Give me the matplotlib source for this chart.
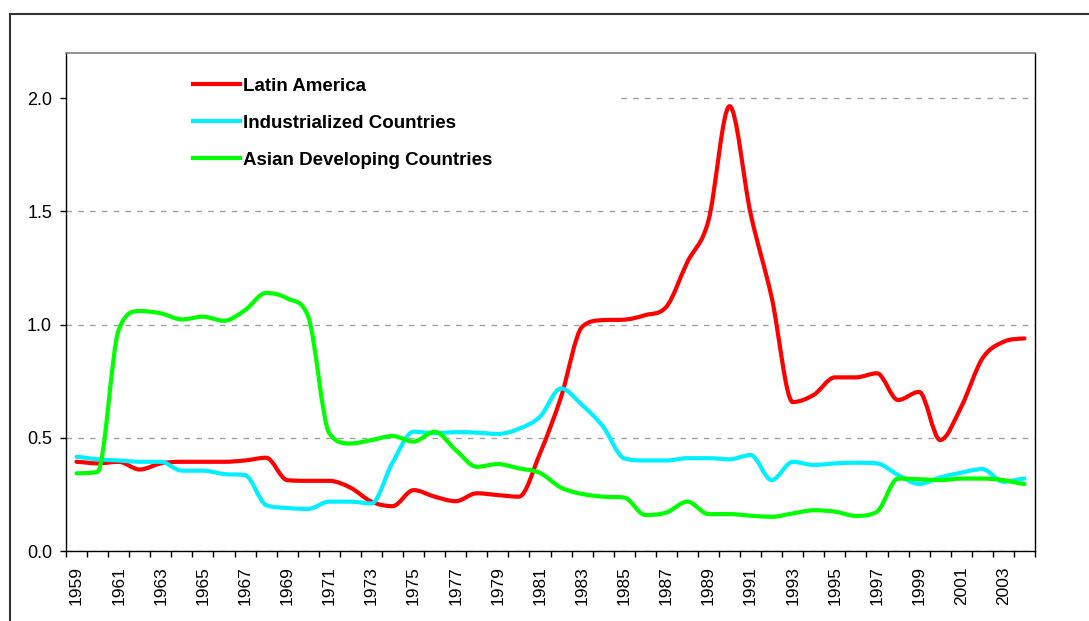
import numpy as np
import matplotlib
matplotlib.use("Agg")
import matplotlib.pyplot as plt
from matplotlib.path import Path
from matplotlib.patches import PathPatch, Rectangle
from matplotlib.lines import Line2D

plt.rcParams['font.family'] = ['Liberation Sans', 'DejaVu Sans']

# -------------------------------------------------------------
# Dados
# -------------------------------------------------------------
anos = list(range(1959, 2005))

latin_america = [0.394, 0.387, 0.394, 0.360, 0.387, 0.394, 0.394, 0.394, 0.400, 0.412,
                 0.313, 0.310, 0.310, 0.280, 0.218, 0.198, 0.269, 0.240, 0.220, 0.255,
                 0.247, 0.240, 0.431, 0.680, 0.990, 1.020, 1.022, 1.042, 1.079, 1.277,
                 1.460, 1.965, 1.490, 1.120, 0.658, 0.690, 0.767, 0.767, 0.785, 0.667,
                 0.703, 0.490, 0.637, 0.850, 0.924, 0.939]

industrializados = [0.416, 0.405, 0.400, 0.394, 0.394, 0.355, 0.355, 0.340, 0.335, 0.203,
                    0.190, 0.186, 0.218, 0.218, 0.210, 0.390, 0.527, 0.520, 0.525, 0.523,
                    0.517, 0.540, 0.593, 0.718, 0.645, 0.549, 0.409, 0.400, 0.400, 0.410,
                    0.410, 0.405, 0.424, 0.313, 0.394, 0.380, 0.387, 0.390, 0.387, 0.336,
                    0.296, 0.325, 0.346, 0.362, 0.306, 0.320]

asia = [0.343, 0.350, 0.976, 1.060, 1.050, 1.023, 1.035, 1.017, 1.064, 1.140,
        1.116, 1.035, 0.520, 0.475, 0.490, 0.508, 0.483, 0.527, 0.446, 0.372,
        0.384, 0.365, 0.345, 0.280, 0.252, 0.240, 0.236, 0.159, 0.170, 0.218,
        0.163, 0.163, 0.156, 0.151, 0.166, 0.180, 0.174, 0.155, 0.174, 0.320,
        0.317, 0.313, 0.320, 0.320, 0.313, 0.296]

series = [
    ('Latin America', latin_america, '#FF0000'),
    ('Industrialized Countries', industrializados, '#00F0FF'),
    ('Asian Developing Countries', asia, '#00FF00'),
]


def linha_suave(x, y):
    # linha suavizada (Bezier) sem ultrapassar os pontos
    x = np.asarray(x, float)
    y = np.asarray(y, float)
    d = np.diff(y)
    m = np.zeros_like(y)
    for i in range(1, len(y) - 1):
        if d[i - 1] * d[i] > 0:
            cr = (d[i - 1] + d[i]) / 2
            lim = 3 * min(abs(d[i - 1]), abs(d[i]))
            m[i] = np.sign(cr) * min(abs(cr), lim)
    m[0] = d[0] / 2
    m[-1] = d[-1] / 2
    verts = [(x[0], y[0])]
    codes = [Path.MOVETO]
    for i in range(len(x) - 1):
        h = x[i + 1] - x[i]
        verts += [(x[i] + h / 3, y[i] + m[i] * h / 3),
                  (x[i + 1] - h / 3, y[i + 1] - m[i + 1] * h / 3),
                  (x[i + 1], y[i + 1])]
        codes += [Path.CURVE4] * 3
    return Path(verts, codes)


fig = plt.figure(figsize=(10.89, 6.21), dpi=100)
ax = fig.add_axes([66 / 1089, 1 - 551 / 621, 969 / 1089, 498 / 621])

pos = np.arange(len(anos))
handles = []
for nome, vals, cor in series:
    ax.add_patch(PathPatch(linha_suave(pos, vals), facecolor='none', edgecolor=cor,
                           lw=3.0, capstyle='round', joinstyle='round', zorder=3))
    handles.append(Line2D([], [], color=cor, lw=3.0))

ax.set_xlim(-0.5, len(anos) - 0.5)
ax.set_ylim(0, 2.2)

# eixo y
ax.set_yticks([0, 0.5, 1.0, 1.5, 2.0])
ax.set_yticklabels(['0.0', '0.5', '1.0', '1.5', '2.0'])
ax.tick_params(axis='y', direction='out', length=4, width=1, labelsize=13, pad=6)
ax.yaxis.grid(True, color='#a0a0a0', linestyle=(0, (4, 4.5)), linewidth=1)
ax.set_axisbelow(True)

# eixo x: rótulos a cada 2 anos, marcas entre categorias
ax.set_xticks(pos[::2])
ax.set_xticklabels([str(a) for a in anos[::2]], rotation=90)
ax.set_xticks(np.arange(-0.5, len(anos)), minor=True)
ax.tick_params(axis='x', which='major', length=0, labelsize=12.5, pad=11)
ax.tick_params(axis='x', which='minor', direction='out', length=4, width=1)

for lado in ['left', 'bottom', 'right']:
    ax.spines[lado].set_color('black')
    ax.spines[lado].set_linewidth(1)
ax.spines['top'].set_color('#808080')
ax.spines['top'].set_linewidth(1.2)

# fundo branco da legenda (cobre a grade em 2.0)
ax.add_patch(Rectangle((0, 0.755), 0.57, 0.23, transform=ax.transAxes,
                       facecolor='white', edgecolor='none', zorder=1))

leg = ax.legend(handles, [s[0] for s in series], loc='upper left',
                bbox_to_anchor=(0.131, 0.950), frameon=False, borderpad=0,
                borderaxespad=0, handlelength=2.5, handletextpad=0.15,
                labelspacing=1.06, prop={'weight': 'bold', 'size': 13.5})

# moldura externa da figura
fig.add_artist(Line2D([10 / 1089, 10 / 1089], [0, 1 - 14 / 621],
                      transform=fig.transFigure, color='#333333', lw=1.5))
fig.add_artist(Line2D([10 / 1089, 1], [1 - 14 / 621, 1 - 14 / 621],
                      transform=fig.transFigure, color='#333333', lw=1.5))

fig.savefig('out.png', dpi=100)
